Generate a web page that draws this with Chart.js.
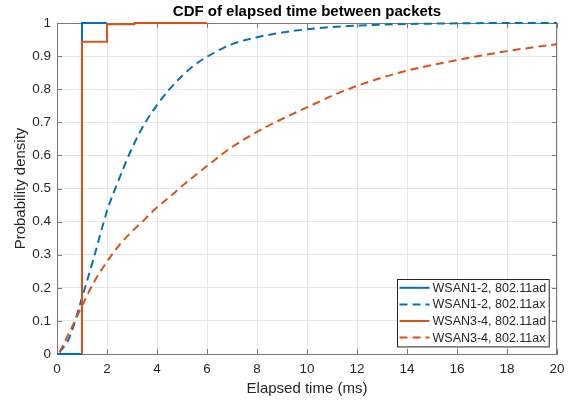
<!DOCTYPE html>
<html><head><meta charset="utf-8">
<script src="https://cdn.jsdelivr.net/npm/chart.js@4/dist/chart.umd.min.js"></script>
<style>html,body{margin:0;padding:0;background:#fff}</style>
</head><body>
<canvas id="c" width="579" height="405"></canvas>
<script>
// ---- data ----
const titleText = 'CDF of elapsed time between packets';
const xLabel = 'Elapsed time (ms)';
const yLabel = 'Probability density';
const xTicks = [0, 2, 4, 6, 8, 10, 12, 14, 16, 18, 20];
const yTicks = [0, 0.1, 0.2, 0.3, 0.4, 0.5, 0.6, 0.7, 0.8, 0.9, 1];
const yTickLabels = ['0', '0.1', '0.2', '0.3', '0.4', '0.5', '0.6', '0.7', '0.8', '0.9', '1'];
const seriesNames = ['WSAN1-2, 802.11ad', 'WSAN1-2, 802.11ax', 'WSAN3-4, 802.11ad', 'WSAN3-4, 802.11ax'];

// WSAN1-2 802.11ad (step CDF, corner points)
const adBlueX = [0, 1, 1, 2];
const adBlueY = [0, 0, 1, 1];
// WSAN3-4 802.11ad (step CDF, corner points)
const adOrangeX = [1, 1, 2, 2, 3.1, 3.1, 6];
const adOrangeY = [0, 0.943, 0.943, 0.996, 0.996, 1, 1];
// WSAN1-2 802.11ax
const axBlueX = [0.1, 0.5, 1, 1.5, 2, 2.5, 3, 3.5, 4, 4.5, 5, 5.5, 6, 7, 8, 9, 10, 11, 12, 13, 14, 15, 16, 18, 20];
const axBlueY = [0.005, 0.05, 0.17, 0.298, 0.432, 0.532, 0.622, 0.695, 0.752, 0.8, 0.84, 0.873, 0.898, 0.936, 0.957, 0.971, 0.981, 0.988, 0.992, 0.995, 0.997, 0.998, 0.999, 1, 1];
// WSAN3-4 802.11ax
const axOrangeX = [0.1, 0.5, 1, 1.5, 2, 2.5, 3, 3.5, 4, 4.5, 5, 5.5, 6, 7, 8, 9, 10, 11, 12, 13, 14, 15, 16, 17, 18, 19, 20];
const axOrangeY = [0.005, 0.066, 0.145, 0.22, 0.279, 0.33, 0.37, 0.406, 0.443, 0.474, 0.507, 0.538, 0.568, 0.625, 0.671, 0.71, 0.745, 0.78, 0.81, 0.835, 0.856, 0.873, 0.888, 0.902, 0.915, 0.926, 0.936];

const BLUE = '#0072BD', ORANGE = '#D95319';
const FONT = '"Liberation Sans", Arial, Helvetica, sans-serif';
const TXT = '#262626';
const AXC = '#7a7a7a';

const pts = (xs, ys) => xs.map((x, i) => ({x: x, y: ys[i]}));

const matlabPlugin = {
  id: 'matlab',
  beforeDatasetsDraw(chart) {
    const ctx = chart.ctx, a = chart.chartArea;
    const xs = chart.scales.x, ys = chart.scales.y;
    ctx.save();
    ctx.strokeStyle = AXC;
    ctx.lineWidth = 1;
    ctx.beginPath();
    ctx.moveTo(a.left, a.top + 0.5); ctx.lineTo(a.right, a.top + 0.5);
    ctx.moveTo(a.right - 0.5, a.top); ctx.lineTo(a.right - 0.5, a.bottom);
    const tl = 5;
    xTicks.forEach(v => {
      const px = Math.round(xs.getPixelForValue(v)) + 0.5;
      ctx.moveTo(px, a.bottom); ctx.lineTo(px, a.bottom - tl);
      ctx.moveTo(px, a.top); ctx.lineTo(px, a.top + tl);
    });
    yTicks.forEach(v => {
      const py = Math.round(ys.getPixelForValue(v)) + 0.5;
      ctx.moveTo(a.left, py); ctx.lineTo(a.left + tl, py);
      ctx.moveTo(a.right, py); ctx.lineTo(a.right - tl, py);
    });
    ctx.stroke();
    ctx.restore();
  },
  afterDraw(chart) {
    const ctx = chart.ctx, a = chart.chartArea;
    ctx.save();
    // title
    ctx.fillStyle = '#000';
    ctx.font = 'bold 15px ' + FONT;
    ctx.textAlign = 'center';
    ctx.textBaseline = 'middle';
    ctx.fillText(titleText, (a.left + a.right) / 2, 12);
    // legend
    ctx.font = '12.5px ' + FONT;
    const rowH = 16.6;
    let tw = 0;
    seriesNames.forEach(n => { tw = Math.max(tw, ctx.measureText(n).width); });
    const boxW = 2 + 30 + 3 + tw + 3;
    const boxH = rowH * seriesNames.length + 1;
    const bx = Math.round(a.right - 8 - boxW) + 0.5;
    const by = Math.round(a.bottom - 8 - boxH) + 0.5;
    ctx.fillStyle = '#fff';
    ctx.fillRect(bx, by, boxW, boxH);
    ctx.strokeStyle = TXT;
    ctx.lineWidth = 1;
    ctx.strokeRect(bx, by, boxW, boxH);
    chart.data.datasets.forEach((ds, i) => {
      const cy = by + 8.3 + i * rowH;
      ctx.strokeStyle = ds.borderColor;
      ctx.lineWidth = 2;
      ctx.setLineDash(ds.borderDash || []);
      ctx.beginPath();
      ctx.moveTo(bx + 2, cy); ctx.lineTo(bx + 32, cy);
      ctx.stroke();
      ctx.setLineDash([]);
      ctx.fillStyle = TXT;
      ctx.textAlign = 'left';
      ctx.fillText(ds.label, bx + 35, cy + 0.5);
    });
    ctx.restore();
  }
};

new Chart(document.getElementById('c'), {
  type: 'line',
  data: {
    datasets: [
      {label: seriesNames[0], data: pts(adBlueX, adBlueY), borderColor: BLUE, borderWidth: 2, pointRadius: 0, fill: false, order: 4, clip: 4},
      {label: seriesNames[1], data: pts(axBlueX, axBlueY), borderColor: BLUE, borderWidth: 2, borderDash: [8, 5], cubicInterpolationMode: 'monotone', pointRadius: 0, fill: false, order: 3, clip: 4},
      {label: seriesNames[2], data: pts(adOrangeX, adOrangeY), borderColor: ORANGE, borderWidth: 2, pointRadius: 0, fill: false, order: 2, clip: 4},
      {label: seriesNames[3], data: pts(axOrangeX, axOrangeY), borderColor: ORANGE, borderWidth: 2, borderDash: [8, 5], cubicInterpolationMode: 'monotone', pointRadius: 0, fill: false, order: 1, clip: 4}
    ]
  },
  options: {
    responsive: false,
    animation: false,
    devicePixelRatio: 1,
    layout: {padding: {top: 23, right: 22, left: 0, bottom: 0}},
    plugins: {legend: {display: false}, tooltip: {enabled: false}, title: {display: false}},
    scales: {
      x: {
        type: 'linear', min: 0, max: 20,
        afterBuildTicks: s => { s.ticks = xTicks.map(v => ({value: v})); },
        afterFit: s => { s.height = 51; },
        ticks: {color: TXT, font: {family: FONT, size: 13.5}, padding: 7, maxRotation: 0, callback: v => String(v)},
        grid: {color: '#e6e6e6', drawTicks: false},
        border: {display: true, color: AXC},
        title: {display: true, text: xLabel, color: TXT, font: {family: FONT, size: 15}, padding: {top: 0, bottom: 7}}
      },
      y: {
        type: 'linear', min: 0, max: 1,
        afterBuildTicks: s => { s.ticks = yTicks.map(v => ({value: v})); },
        afterFit: s => { s.width = 57; },
        ticks: {color: TXT, font: {family: FONT, size: 13.5}, padding: 6, callback: (v, i) => yTickLabels[i]},
        grid: {color: '#e6e6e6', drawTicks: false},
        border: {display: true, color: AXC},
        title: {display: true, text: yLabel, color: TXT, font: {family: FONT, size: 15}, padding: {top: 12, bottom: 0}}
      }
    }
  },
  plugins: [matlabPlugin]
});
</script>
</body></html>
